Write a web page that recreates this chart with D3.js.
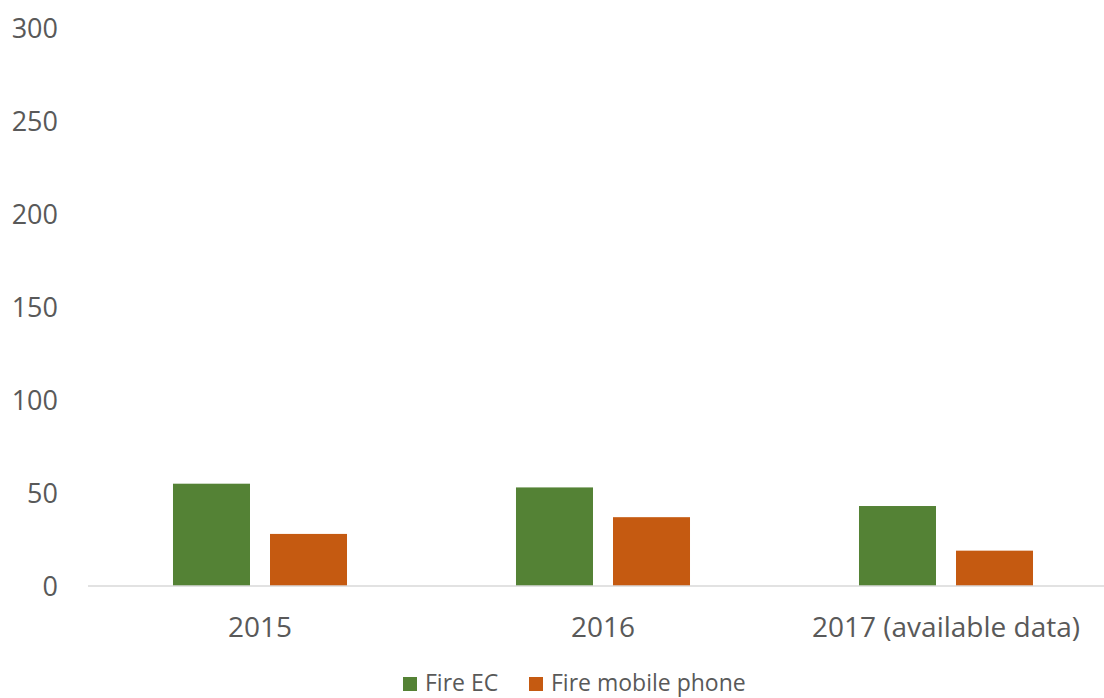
<!DOCTYPE html>
<html>
<head>
<meta charset="utf-8">
<script src="https://d3js.org/d3.v7.min.js"></script>
<style>
  body { margin: 0; background: #fff; }
  svg text { font-family: "Open Sans", sans-serif; fill: #595959; }
</style>
</head>
<body>
<div id="chart"></div>
<script>
var categories = ["2015", "2016", "2017 (available data)"];
var series = ["Fire EC", "Fire mobile phone"];
var fireEC = [55, 53, 43];
var fireMobile = [28, 37, 19];
var yTicks = [0, 50, 100, 150, 200, 250, 300];
var colors = ["#548235", "#C55A11"];

var width = 1104, height = 698;
var svg = d3.select("#chart").append("svg")
    .attr("width", width)
    .attr("height", height);

var x0 = d3.scaleBand().domain(categories).range([88.5, 1117.5]);
var x1 = d3.scaleBand().domain(series).range([0, x0.bandwidth()])
    .paddingInner(20 / 97).paddingOuter(0.871);
var y = d3.scaleLinear().domain([0, 300]).range([586, 28]);

var values = [fireEC, fireMobile];

// y labels, no axis line
svg.append("g").selectAll("text")
    .data(yTicks)
  .enter().append("text")
    .attr("x", 58)
    .attr("y", function(d) { return y(d); })
    .attr("dy", "0.36em")
    .attr("text-anchor", "end")
    .style("font-size", "27px")
    .text(function(d) { return d; });

// bars
series.forEach(function(s, i) {
  svg.append("g").selectAll("rect")
      .data(values[i])
    .enter().append("rect")
      .attr("x", function(d, j) { return x0(categories[j]) + x1(s); })
      .attr("y", function(d) { return y(d); })
      .attr("width", x1.bandwidth())
      .attr("height", function(d) { return y(0) - y(d); })
      .attr("fill", colors[i]);
});

// baseline
svg.append("line")
    .attr("x1", 88).attr("x2", width)
    .attr("y1", y(0)).attr("y2", y(0))
    .attr("stroke", "#D9D9D9").attr("stroke-width", 1.5);

// category labels
svg.append("g").selectAll("text")
    .data(categories)
  .enter().append("text")
    .attr("x", function(d) { return x0(d) + x0.bandwidth() / 2; })
    .attr("y", 627)
    .attr("dy", "0.36em")
    .attr("text-anchor", "middle")
    .style("font-size", "28px")
    .text(function(d) { return d; });

// legend
var legendX = [403, 529];
var lg = svg.append("g").selectAll("g")
    .data(series)
  .enter().append("g")
    .attr("transform", function(d, i) { return "translate(" + legendX[i] + ",683)"; });
lg.append("rect")
    .attr("x", 0).attr("y", -6)
    .attr("width", 14).attr("height", 14)
    .attr("fill", function(d, i) { return colors[i]; });
lg.append("text")
    .attr("x", 22)
    .attr("dy", "0.36em")
    .style("font-size", "23px")
    .text(function(d) { return d; });
</script>
</body>
</html>
